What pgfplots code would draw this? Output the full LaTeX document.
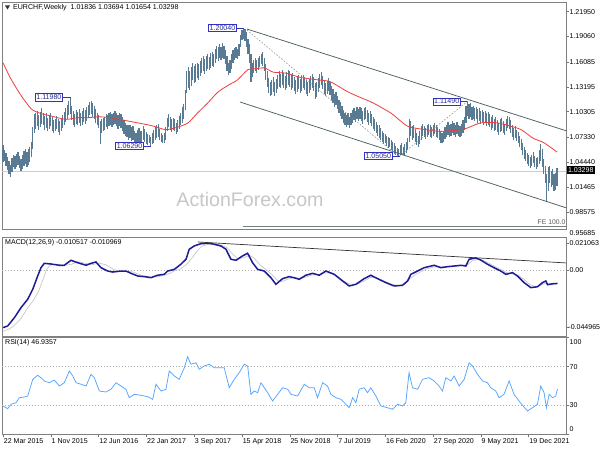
\documentclass[border=0pt]{standalone}
\usepackage{pgfplots}
\pgfplotsset{compat=1.18}
\usepackage{pgfplotstable}
\usepackage{fontspec}
\setmainfont{Liberation Sans}
\definecolor{barcol}{RGB}{88,122,146}
\definecolor{macol}{RGB}{240,60,60}
\definecolor{chancol}{RGB}{78,96,96}
\definecolor{macdcol}{RGB}{28,28,150}
\definecolor{sigcol}{RGB}{200,200,200}
\definecolor{rsicol}{RGB}{85,165,255}
\definecolor{lblborder}{RGB}{50,50,190}
\definecolor{lbltext}{RGB}{40,40,150}
\newcommand{\lf}{\fontsize{7.05}{8}\selectfont}
\pgfplotstableread{
lo hi
1.044 1.064
1.045 1.058
1.040 1.055
1.035 1.050
1.030 1.046
1.027 1.041
1.033 1.049
1.038 1.052
1.036 1.051
1.039 1.054
1.041 1.056
1.037 1.051
1.034 1.048
1.036 1.052
1.040 1.057
1.042 1.059
1.039 1.056
1.041 1.060
1.044 1.062
1.050 1.068
1.060 1.085
1.078 1.100
1.083 1.101
1.086 1.104
1.082 1.099
1.085 1.103
1.089 1.107
1.087 1.102
1.082 1.098
1.084 1.101
1.080 1.096
1.083 1.099
1.086 1.102
1.081 1.097
1.078 1.093
1.080 1.095
1.083 1.098
1.079 1.094
1.076 1.092
1.080 1.096
1.084 1.099
1.088 1.103
1.091 1.107
1.094 1.111
1.099 1.116
1.100 1.1198
1.093 1.110
1.088 1.104
1.085 1.100
1.089 1.105
1.087 1.103
1.090 1.106
1.086 1.102
1.088 1.104
1.091 1.107
1.089 1.105
1.092 1.108
1.096 1.111
1.099 1.114
1.100 1.115
1.097 1.113
1.095 1.110
1.090 1.106
1.087 1.102
1.084 1.099
1.065 1.092
1.078 1.094
1.080 1.096
1.082 1.097
1.085 1.100
1.083 1.099
1.086 1.101
1.088 1.103
1.085 1.100
1.087 1.102
1.089 1.104
1.086 1.101
1.083 1.099
1.086 1.101
1.084 1.100
1.080 1.097
1.077 1.093
1.075 1.090
1.073 1.088
1.070 1.087
1.072 1.088
1.069 1.085
1.070 1.086
1.066 1.080
1.064 1.078
1.066 1.082
1.068 1.084
1.065 1.080
1.067 1.081
1.070 1.086
1.068 1.083
1.065 1.079
1.064 1.077
1.066 1.076
1.0629 1.074
1.065 1.078
1.067 1.082
1.070 1.085
1.072 1.088
1.074 1.089
1.070 1.083
1.068 1.078
1.066 1.076
1.067 1.078
1.070 1.085
1.080 1.096
1.085 1.100
1.082 1.097
1.079 1.094
1.082 1.096
1.080 1.094
1.077 1.090
1.079 1.093
1.083 1.098
1.087 1.102
1.090 1.108
1.095 1.112
1.105 1.128
1.125 1.150
1.130 1.155
1.128 1.150
1.133 1.155
1.140 1.160
1.136 1.156
1.138 1.158
1.142 1.160
1.140 1.158
1.144 1.162
1.148 1.165
1.150 1.168
1.147 1.164
1.150 1.168
1.153 1.170
1.151 1.167
1.154 1.171
1.156 1.172
1.155 1.170
1.160 1.176
1.164 1.180
1.162 1.178
1.165 1.182
1.163 1.178
1.166 1.183
1.164 1.180
1.158 1.175
1.150 1.168
1.146 1.160
1.148 1.163
1.153 1.170
1.160 1.175
1.163 1.177
1.165 1.178
1.164 1.176
1.168 1.182
1.178 1.192
1.186 1.198
1.188 1.2004
1.185 1.199
1.178 1.196
1.170 1.188
1.160 1.182
1.137 1.170
1.143 1.160
1.148 1.163
1.150 1.165
1.148 1.163
1.151 1.166
1.155 1.168
1.158 1.170
1.156 1.172
1.150 1.166
1.140 1.158
1.132 1.150
1.125 1.142
1.121 1.138
1.122 1.140
1.126 1.143
1.121 1.137
1.125 1.141
1.129 1.146
1.132 1.150
1.130 1.147
1.134 1.151
1.131 1.148
1.128 1.145
1.131 1.149
1.134 1.152
1.132 1.150
1.128 1.146
1.130 1.148
1.127 1.143
1.124 1.140
1.126 1.143
1.129 1.146
1.125 1.141
1.127 1.144
1.130 1.146
1.128 1.143
1.124 1.140
1.121 1.137
1.125 1.141
1.128 1.145
1.131 1.147
1.127 1.143
1.118 1.136
1.120 1.138
1.126 1.142
1.131 1.147
1.134 1.149
1.129 1.145
1.124 1.139
1.121 1.136
1.124 1.139
1.127 1.142
1.122 1.137
1.117 1.133
1.113 1.129
1.109 1.124
1.111 1.126
1.106 1.121
1.102 1.117
1.098 1.114
1.094 1.110
1.090 1.105
1.087 1.101
1.085 1.099
1.088 1.102
1.084 1.097
1.087 1.101
1.090 1.105
1.093 1.107
1.091 1.104
1.094 1.108
1.092 1.106
1.095 1.109
1.092 1.107
1.089 1.104
1.093 1.107
1.095 1.109
1.091 1.105
1.088 1.102
1.090 1.104
1.086 1.100
1.083 1.097
1.080 1.094
1.078 1.091
1.075 1.088
1.072 1.087
1.070 1.084
1.068 1.080
1.065 1.078
1.066 1.077
1.063 1.075
1.061 1.073
1.062 1.072
1.058 1.070
1.055 1.068
1.054 1.066
1.053 1.063
1.051 1.061
1.0505 1.060
1.052 1.064
1.054 1.066
1.052 1.062
1.053 1.065
1.055 1.068
1.058 1.072
1.068 1.095
1.075 1.092
1.070 1.086
1.072 1.088
1.068 1.083
1.064 1.078
1.062 1.075
1.065 1.080
1.070 1.086
1.075 1.089
1.073 1.086
1.071 1.084
1.073 1.087
1.076 1.089
1.074 1.087
1.072 1.085
1.075 1.088
1.077 1.090
1.074 1.087
1.072 1.085
1.070 1.083
1.067 1.080
1.066 1.078
1.068 1.080
1.071 1.085
1.074 1.088
1.076 1.091
1.073 1.087
1.075 1.089
1.078 1.092
1.076 1.090
1.074 1.088
1.077 1.091
1.075 1.088
1.073 1.086
1.075 1.089
1.078 1.093
1.082 1.097
1.090 1.110
1.098 1.1149
1.095 1.112
1.097 1.113
1.093 1.109
1.095 1.110
1.092 1.107
1.094 1.109
1.090 1.106
1.092 1.107
1.089 1.104
1.091 1.105
1.088 1.103
1.090 1.104
1.086 1.101
1.088 1.103
1.085 1.100
1.082 1.097
1.084 1.099
1.080 1.095
1.082 1.097
1.079 1.093
1.076 1.090
1.079 1.094
1.081 1.096
1.078 1.092
1.076 1.089
1.080 1.094
1.084 1.098
1.083 1.097
1.078 1.093
1.073 1.088
1.070 1.084
1.072 1.086
1.069 1.082
1.066 1.079
1.062 1.075
1.058 1.071
1.053 1.067
1.048 1.062
1.045 1.058
1.042 1.055
1.040 1.052
1.037 1.050
1.040 1.053
1.043 1.056
1.039 1.051
1.036 1.049
1.038 1.050
1.042 1.058
1.045 1.065
1.038 1.060
1.030 1.048
1.020 1.040
0.998 1.030
1.010 1.038
1.020 1.040
1.015 1.034
1.018 1.036
1.010 1.030
1.012 1.032
1.0165 1.0369
}\pricedata
\pgfplotsset{
  mtpanel/.style={
    scale only axis, width=564pt, xmin=-0.7, xmax=377,
    axis line style={draw=black!50, line width=0.6pt},
    major tick style={draw=black!55, line width=0.5pt},
    ytick pos=right, yticklabel pos=right,
    tick align=outside, major tick length=3pt,
    scaled y ticks=false, scaled x ticks=false,
    tick label style={font=\lf, text=black},
    yticklabel style={anchor=west, inner sep=0pt, xshift=0.4pt},
    /pgf/number format/assume math mode=true,
    clip=true,
  }
}
\begin{document}
\begin{tikzpicture}[x=1pt,y=1pt]
\useasboundingbox (0pt,0pt) rectangle (600pt,450pt);
\fill[white] (0pt,0pt) rectangle (600pt,450pt);
% ---------------- main price panel
\begin{axis}[mtpanel, at={(2pt,221pt)}, anchor=south west, height=227pt,
  ymin=0.96624, ymax=1.23081, xtick=\empty,
  ytick={1.2195,1.1906,1.16085,1.13195,1.10305,1.0733,1.0444,1.01465,0.98575},
  yticklabels={1.21950,1.19060,1.16085,1.13195,1.10305,1.07330,1.04440,1.01465,0.98575}]
\addplot[black!20, line width=0.8pt, forget plot] coordinates {(-1,1.03298) (378,1.03298)};
\addplot[chancol!80, line width=0.7pt, forget plot] coordinates {(160.6,0.9697) (378,0.9697)};
\addplot[draw=none, forget plot, error bars/.cd, y dir=both, y explicit, error mark=none,
  error bar style={draw=barcol, line width=1.15pt}]
  table[x expr=\coordindex, y expr={(\thisrow{hi}+\thisrow{lo})/2},
        y error plus expr={(\thisrow{hi}-\thisrow{lo})/2},
        y error minus expr={(\thisrow{hi}-\thisrow{lo})/2}] {\pricedata};
\addplot[macol, line width=0.8pt, smooth, tension=0.4] coordinates {
(0,1.160) (5,1.142) (12,1.122) (19,1.106) (25,1.101) (32,1.098) (42,1.094) (50,1.096)
(57,1.096) (64,1.097) (72,1.096) (81,1.093) (90,1.090) (96,1.088) (101,1.086) (109,1.082)
(117,1.085) (124,1.090) (130,1.101) (137,1.113) (144,1.126) (151,1.134) (157,1.140) (164,1.152)
(169,1.153) (175,1.154) (181,1.149) (189,1.148) (199,1.143) (211,1.140) (219,1.138) (231,1.126)
(240,1.119) (248,1.113) (260,1.101) (271,1.086) (283,1.082) (293,1.080) (307,1.082) (311,1.084)
(320,1.090) (331,1.090) (340,1.086) (347,1.082) (355,1.072) (362,1.067) (371,1.056)};
\addplot[chancol, line width=0.75pt] coordinates {(163.3,1.1993) (377.5,1.0805)};
\addplot[chancol, line width=0.75pt] coordinates {(158.6,1.1143) (377.5,0.9907)};
\addplot[black!45, line width=0.5pt, dash pattern=on 1.6pt off 1.6pt] coordinates {(163.3,1.1982) (265,1.0505) (311,1.1149)};
% level labels
\addplot[lblborder, line width=0.6pt] coordinates {(156.6,1.2004) (161.5,1.2004)};
\addplot[lblborder, line width=0.6pt] coordinates {(40.2,1.1198) (45.5,1.1198)};
\addplot[lblborder, line width=0.6pt] coordinates {(94.4,1.0629) (99.2,1.0629)};
\addplot[lblborder, line width=0.6pt] coordinates {(261,1.0505) (265.5,1.0505)};
\addplot[lblborder, line width=0.6pt] coordinates {(306.6,1.1149) (311,1.1149)};
\tikzset{lbl/.style={draw=lblborder, fill=white, text=lbltext, line width=0.6pt, inner xsep=1.4pt, inner ysep=1.1pt, font=\lf, anchor=east}}
\node[lbl] at (axis cs:156.6,1.2004) {1.20040};
\node[lbl] at (axis cs:40.2,1.1198) {1.11980};
\node[lbl] at (axis cs:94.4,1.0629) {1.06290};
\node[lbl] at (axis cs:261,1.0517) {1.05050};
\node[lbl] at (axis cs:306.6,1.1149) {1.11490};
\node[anchor=south east, inner sep=0.5pt, font=\fontsize{6.8}{7}\selectfont, text=black!65] at (axis cs:377,0.9705) {FE 100.0};
\end{axis}
\node[fill=black, text=white, anchor=west, inner xsep=1.3pt, inner ysep=1.2pt, font=\lf] at (566.5pt,280pt) {1.03298};
\node[anchor=west, inner sep=0pt, font=\lf] at (569.5pt,216.5pt) {0.95685};
% title and watermark
\fill[black!80] (5pt,444.5pt) -- (10pt,444.5pt) -- (7.5pt,440.5pt) -- cycle;
\node[anchor=west, inner sep=0pt, font=\lf] at (13pt,442pt) {EURCHF,Weekly\ \ 1.01836 1.03694 1.01654 1.03298};
\node[text=black!22, font=\fontsize{19.6}{22}\selectfont, inner sep=0pt] at (250pt,251pt) {ActionForex.com};
% ---------------- MACD panel
\begin{axis}[mtpanel, at={(2pt,114pt)}, anchor=south west, height=99pt,
  ymin=-0.05164, ymax=0.02582, xtick=\empty,
  ytick={0.021063,0,-0.044965}, yticklabels={0.021063,0.00,\hspace{-1.2pt}-0.044965}]
\addplot[black!30, line width=0.5pt, dash pattern=on 1.5pt off 1.5pt] coordinates {(-1,0) (378,0)};
\addplot[sigcol, line width=0.7pt] coordinates {
(0,-0.0480) (4,-0.0462) (7,-0.0440) (12,-0.0380) (16,-0.0305) (20.5,-0.0235) (24,-0.0160) (27.2,-0.0060)
(29.4,0.0010) (32,0.0040) (37,0.0045) (42,0.0038) (46,0.0045) (50,0.0065) (54,0.0055) (60,0.0042)
(64,0.0055) (69,0.0040) (74,0.0005) (78,-0.0012) (83,-0.0010) (87,-0.0015) (90,-0.0030) (94,-0.0045)
(99,-0.0055) (104,-0.0052) (108,-0.0040) (112,-0.0025) (115,-0.0005) (119,0.0010) (123,0.0045) (127,0.0100)
(130,0.0150) (133,0.0185) (137,0.0200) (142,0.0205) (146,0.0195) (150,0.0175) (154,0.0120) (157,0.0090)
(161,0.0095) (165,0.0115) (168,0.0095) (172,0.0040) (176,0.0005) (180,-0.0035) (184,-0.0085) (187,-0.0090)
(191,-0.0070) (195,-0.0060) (199,-0.0065) (203,-0.0055) (207,-0.0038) (212,-0.0035) (216,-0.0022) (220,-0.0025)
(224,-0.0050) (228,-0.0085) (232,-0.0110) (237,-0.0112) (242,-0.0085) (246,-0.0058) (250,-0.0060) (255,-0.0085)
(260,-0.0112) (265,-0.0122) (269,-0.0110) (272,-0.0075) (275,-0.0045) (279,-0.0018) (283,0.0005) (289,0.0025)
(294,0.0025) (298,0.0025) (302,0.0028) (307,0.0033) (311,0.0040) (314,0.0070) (318,0.0085) (321,0.0078)
(325,0.0055) (329,0.0030) (333,0.0005) (337,-0.0020) (341,-0.0030) (345,-0.0040) (349,-0.0075) (353,-0.0115)
(357,-0.0132) (361,-0.0115) (364,-0.0100) (367,-0.0110) (371,-0.0110)};
\addplot[macdcol, line width=1.5pt] coordinates {
(0,-0.0451) (3.1,-0.0438) (7.6,-0.0373) (12,-0.0295) (16.5,-0.0229) (19.9,-0.0151) (23.2,-0.0047) (25.4,0.0018)
(27.6,0.0052) (32.1,0.0047) (37.7,0.0037) (41,0.0037) (45.5,0.0076) (50,0.0057) (55.6,0.0037) (58.9,0.0052)
(62.2,0.0063) (65.6,0.0018) (70.1,-0.0008) (73.4,-0.0016) (79,-0.0008) (82.3,-0.0008) (85.7,-0.0026) (90.2,-0.0047)
(94.6,-0.0052) (99.1,-0.0060) (103.5,-0.0041) (108,-0.0034) (110.2,-0.0008) (114.7,0.0005) (119.1,0.0045) (122.5,0.0084)
(124.7,0.0162) (128,0.0188) (132.5,0.0206) (138,0.0209) (141.4,0.0201) (145.9,0.0188) (149.3,0.0162) (152.6,0.0084)
(156,0.0076) (160.4,0.0110) (163.8,0.0131) (167.1,0.0057) (170.5,0.0005) (174.9,-0.0008) (179.4,-0.0060) (182.7,-0.0112)
(187.2,-0.0068) (191.6,-0.0052) (194.9,-0.0060) (198.3,-0.0073) (202.8,-0.0041) (207.3,-0.0026) (211.7,-0.0041) (216.2,-0.0008)
(221.8,-0.0034) (227.4,-0.0086) (231.8,-0.0125) (236.3,-0.0112) (241.8,-0.0068) (246.3,-0.0041) (250.8,-0.0068) (256.4,-0.0099)
(261.9,-0.0125) (267.5,-0.0120) (270.9,-0.0086) (273.1,-0.0034) (277.6,-0.0008) (282,0.0018) (288.7,0.0037) (293.2,0.0018)
(297.6,0.0026) (302.1,0.0031) (306.6,0.0037) (309.9,0.0031) (312.1,0.0084) (316.6,0.0094) (319.9,0.0078) (324.4,0.0045)
(328.8,0.0018) (333.3,-0.0008) (336.7,-0.0034) (341.2,-0.0021) (344.5,-0.0047) (349,-0.0099) (353.4,-0.0138) (357.9,-0.0131)
(361.2,-0.0099) (363.5,-0.0086) (364.6,-0.0115) (368,-0.0108) (371.3,-0.0105)};
\addplot[black!80, line width=0.7pt] coordinates {(130.5,0.0219) (377.5,0.0055)};
\end{axis}
\node[anchor=west, inner sep=0pt, font=\lf] at (5pt,207pt) {MACD(12,26,9) -0.010517 -0.010969};
% ---------------- RSI panel
\begin{axis}[mtpanel, at={(2pt,15.7pt)}, anchor=south west, height=96.6pt,
  ymin=0, ymax=100, ytick={0,30,70,100}, yticklabels={,30,70,},
  xtick={0,32,64,96,128,160,192,224,256,288,320,352},
  xticklabels={22 Mar 2015,1 Nov 2015,12 Jun 2016,22 Jan 2017,3 Sep 2017,15 Apr 2018,25 Nov 2018,7 Jul 2019,16 Feb 2020,27 Sep 2020,9 May 2021,19 Dec 2021},
  xtick pos=bottom,
  xticklabel style={anchor=north west, inner sep=0pt, yshift=-0.8pt, xshift=0.6pt}]
\addplot[black!30, line width=0.5pt, dash pattern=on 1.5pt off 1.5pt] coordinates {(-1,70) (378,70)};
\addplot[black!30, line width=0.5pt, dash pattern=on 1.5pt off 1.5pt] coordinates {(-1,30) (378,30)};
\addplot[rsicol, line width=0.75pt] coordinates {
(0,29.3) (3.1,26.5) (5.4,31.1) (8.7,32.7) (10.9,37.9) (14.3,38.6) (16.5,39.6) (19.9,56.9)
(23.2,61.1) (25.4,58.6) (27.6,55.2) (31,53.4) (34.3,56.2) (37.7,50.0) (41,53.4) (44.4,65.5)
(46.7,60.4) (48.9,53.4) (52.2,51.8) (55.6,50.0) (58.9,62.1) (61.1,58.6) (64.5,44.8) (68.9,43.8)
(72.3,46.6) (75.6,53.4) (79,50.0) (82.3,46.6) (84.5,37.9) (87.9,41.4) (92.4,40.4) (96.9,38.9)
(100.2,36.2) (102.4,51.8) (105.8,44.8) (109.1,46.6) (111.3,65.5) (114.7,60.4) (118,56.9) (121.4,68.9)
(123.6,80.3) (125.8,72.5) (129.2,74.1) (131.4,67.3) (134.7,70.7) (138.1,72.5) (141.4,68.9) (144.8,68.9)
(148.1,68.9) (151.5,48.2) (154.8,56.9) (158.2,63.8) (161.5,72.5) (163.8,70.7) (166,41.4) (168.2,44.8)
(170.5,43.1) (172.7,53.4) (177.2,43.1) (180.5,34.5) (183.9,41.4) (187.2,48.2) (190.6,46.6) (192.8,41.4)
(197.3,39.6) (201.7,51.8) (205,48.2) (208.4,48.2) (210.6,37.9) (214,53.4) (217.3,50.0) (219.5,41.4)
(222.9,37.9) (226.3,36.2) (229.6,31.1) (231.8,27.5) (234.1,37.9) (236.3,32.7) (238.5,46.6) (241.8,48.2)
(244.1,43.1) (246.3,48.2) (249.7,39.6) (253,29.3) (257.5,27.5) (260.8,25.9) (264.2,31.1) (267.5,29.3)
(269.7,32.7) (271.9,63.8) (274.2,48.2) (277.6,46.6) (280.9,56.9) (285.3,58.6) (288.7,55.2) (292,50.0)
(294.3,44.8) (296.5,58.6) (299.9,55.2) (302.1,60.4) (305.4,50.0) (308.8,56.9) (312.1,74.1) (314.4,70.7)
(317.7,62.1) (321.1,55.2) (324.4,53.4) (326.6,48.2) (330,44.8) (332.2,37.9) (335.5,41.4) (338.9,55.2)
(342.2,41.4) (346.4,32.7) (351.2,24.1) (354.5,27.5) (357.9,31.1) (360.1,50.0) (362.3,43.1) (363.9,27.5)
(365.7,41.4) (368,37.9) (370.1,39.6) (371.3,46.9)};
\end{axis}
\node[anchor=west, inner sep=0pt, font=\lf] at (5pt,107pt) {RSI(14) 46.9357};
\node[anchor=west, inner sep=0pt, font=\lf] at (569.5pt,107.5pt) {100};
\node[anchor=west, inner sep=0pt, font=\lf] at (569.5pt,21pt) {0};
\end{tikzpicture}
\end{document}
